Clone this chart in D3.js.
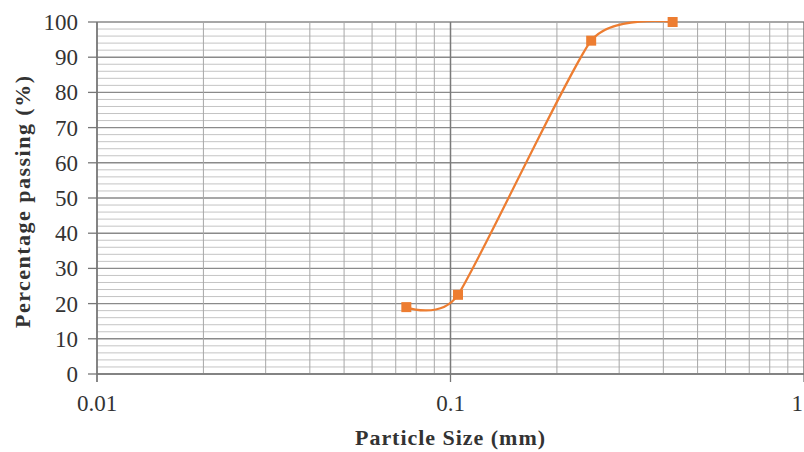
<!DOCTYPE html>
<html><head><meta charset="utf-8">
<script src="https://cdn.jsdelivr.net/npm/d3@7"></script>
<style>body{margin:0;background:#fff}</style></head>
<body><svg id="c" width="804" height="452"></svg>
<script>
const sizes = [0.075, 0.105, 0.25, 0.425];
const passing = [19, 22.5, 94.7, 100];
const xTicks = [0.01, 0.1, 1];
const yTicks = [0, 10, 20, 30, 40, 50, 60, 70, 80, 90, 100];

const svg = d3.select("#c");
const m = {l: 97, r: 804, t: 22, b: 374};
const x = d3.scaleLog().domain([0.01, 1]).range([m.l, m.r]);
const y = d3.scaleLinear().domain([0, 100]).range([m.b, m.t]);
const font = "'Liberation Serif', 'DejaVu Serif', serif";

const g = svg.append("g");
d3.range(0, 101, 2).forEach(v => {
  const major = v % 10 === 0;
  g.append("line").attr("x1", m.l).attr("x2", m.r).attr("y1", y(v)).attr("y2", y(v))
    .attr("stroke", major ? "#8a8a8a" : "#c4c4c4").attr("stroke-width", major ? 1.4 : 1);
});
const vx = [];
[0.01, 0.1].forEach(d => { for (let k = 1; k <= 9; k++) vx.push(d * k); });
vx.push(1);
vx.forEach(v => {
  const major = Math.abs(Math.log10(v) - Math.round(Math.log10(v))) < 1e-9;
  g.append("line").attr("x1", x(v)).attr("x2", x(v)).attr("y1", m.t).attr("y2", m.b)
    .attr("stroke", major ? "#7a7a7a" : "#a8a8a8").attr("stroke-width", major ? 1.5 : 1);
});

svg.append("line").attr("x1", m.l).attr("x2", m.l).attr("y1", m.t).attr("y2", m.b + 8)
  .attr("stroke", "#777").attr("stroke-width", 1.3);
svg.append("line").attr("x1", m.l).attr("x2", m.r).attr("y1", m.b).attr("y2", m.b)
  .attr("stroke", "#777").attr("stroke-width", 1.3);
yTicks.forEach(v => {
  svg.append("line").attr("x1", m.l - 9).attr("x2", m.l).attr("y1", y(v)).attr("y2", y(v))
    .attr("stroke", "#777").attr("stroke-width", 1.3);
  svg.append("text").attr("x", 78).attr("y", y(v)).attr("dy", "0.35em")
    .attr("text-anchor", "end").attr("font-family", font).attr("font-size", 23)
    .attr("fill", "#333").text(v);
});
xTicks.forEach((v, i) => {
  const last = i === xTicks.length - 1;
  svg.append("line").attr("x1", x(v)).attr("x2", x(v)).attr("y1", m.b).attr("y2", m.b + 8)
    .attr("stroke", "#777").attr("stroke-width", 1.3);
  svg.append("text").attr("x", last ? x(v) - 1 : x(v)).attr("y", 411)
    .attr("text-anchor", last ? "end" : "middle").attr("font-family", font).attr("font-size", 23)
    .attr("fill", "#333").text(v);
});

svg.append("text").attr("x", 450).attr("y", 445).attr("text-anchor", "middle")
  .attr("font-family", font).attr("font-size", 22).attr("font-weight", "bold")
  .attr("textLength", 190).attr("lengthAdjust", "spacing")
  .attr("fill", "#333").text("Particle Size (mm)");
svg.append("text").attr("transform", "translate(30,202) rotate(-90)").attr("text-anchor", "middle")
  .attr("font-family", font).attr("font-size", 22).attr("font-weight", "bold")
  .attr("textLength", 252).attr("lengthAdjust", "spacing")
  .attr("fill", "#333").text("Percentage passing (%)");

svg.append("clipPath").attr("id", "clip").append("rect")
  .attr("x", m.l).attr("y", m.t - 1).attr("width", m.r - m.l).attr("height", m.b - m.t + 1);
const data = sizes.map((s, i) => ({s, p: passing[i]}));
const line = d3.line().x(d => x(d.s)).y(d => y(d.p)).curve(d3.curveCardinal.tension(0.43));
svg.append("path").datum(data).attr("d", line).attr("fill", "none")
  .attr("stroke", "#ED7D31").attr("stroke-width", 2.2).attr("clip-path", "url(#clip)");
svg.selectAll("rect.mk").data(data).enter().append("rect").attr("class", "mk")
  .attr("x", d => x(d.s) - 5).attr("y", d => y(d.p) - 5).attr("width", 10).attr("height", 10)
  .attr("fill", "#ED7D31");
</script></body></html>
